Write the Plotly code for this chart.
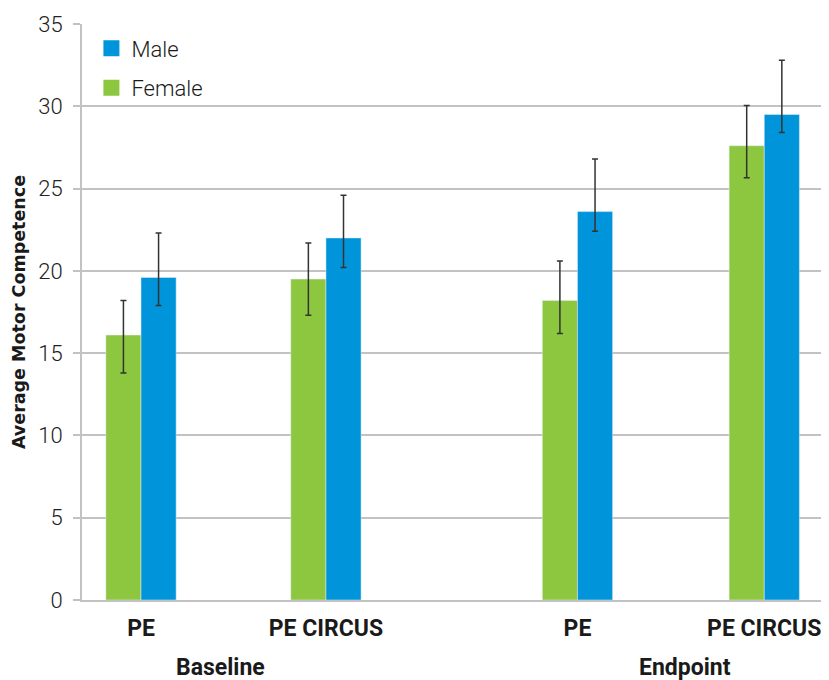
import plotly.graph_objects as go

groups = ["PE", "PE CIRCUS", "PE", "PE CIRCUS"]
phase_labels = ["Baseline", "Endpoint"]
x_pos = [0, 1, 2.36, 3.37]
phase_pos = [0.43, 2.94]

female_mean = [16.1, 19.5, 18.2, 27.6]
female_plus = [2.1, 2.2, 2.4, 2.45]
female_minus = [2.3, 2.2, 2.0, 1.95]

male_mean = [19.6, 22.0, 23.6, 29.5]
male_plus = [2.7, 2.6, 3.2, 3.3]
male_minus = [1.7, 1.8, 1.2, 1.1]

y_ticks = [0, 5, 10, 15, 20, 25, 30, 35]

GREEN = "#8DC63F"
BLUE = "#0095DA"
GRID = "#C2C2C2"
FONT = "Roboto, Noto Sans, sans-serif"

fig = go.Figure()
fig.add_trace(go.Bar(
    name="Female", x=x_pos, y=female_mean, marker_color=GREEN, showlegend=False,
    error_y=dict(type="data", symmetric=False, array=female_plus, arrayminus=female_minus,
                 color="#333333", thickness=1.5, width=3),
))
fig.add_trace(go.Bar(
    name="Male", x=x_pos, y=male_mean, marker_color=BLUE, showlegend=False,
    error_y=dict(type="data", symmetric=False, array=male_plus, arrayminus=male_minus,
                 color="#333333", thickness=1.5, width=3),
))
# legend entries (large square swatches)
for nm, col, grp in [("Male", BLUE, "m"), ("Female", GREEN, "f")]:
    fig.add_trace(go.Scatter(
        name=nm, x=[None], y=[None], mode="markers", legendgroup=grp,
        marker=dict(symbol="square", size=22, color=col), showlegend=True,
    ))

for lbl, xp in zip(phase_labels, phase_pos):
    fig.add_annotation(x=xp, xref="x", y=-0.118, yref="paper", text=f"<b>{lbl}</b>",
                       showarrow=False, yanchor="middle", xanchor="center",
                       font=dict(family=FONT, size=23, color="#1a1a1a"))

fig.update_layout(
    width=821, height=672,
    margin=dict(l=74, r=0, t=16, b=80, autoexpand=False),
    paper_bgcolor="white", plot_bgcolor="white",
    barmode="group", bargap=0.62, bargroupgap=0,
    showlegend=True,
    legend=dict(x=0.0126, y=0.994, xanchor="left", yanchor="top", traceorder="grouped",
                font=dict(family=FONT, size=22, color="#1a1a1a", weight=300),
                bgcolor="rgba(0,0,0,0)", itemsizing="trace", tracegroupgap=8),
    xaxis=dict(range=[-0.319, 3.72], tickmode="array", tickvals=x_pos,
               ticktext=[f"<b>{g}</b>" for g in groups],
               tickfont=dict(family=FONT, size=23, color="#1a1a1a"),
               showgrid=False, zeroline=False, showline=True, linecolor=GRID, linewidth=2,
               ticks="", ticklabelstandoff=6, automargin=False),
    yaxis=dict(range=[0, 35], tickmode="array", tickvals=y_ticks,
               tickfont=dict(family=FONT, size=22, color="#222222", weight=300),
               showgrid=True, gridcolor=GRID, gridwidth=2, zeroline=False,
               showline=True, linecolor=GRID, linewidth=2,
               ticks="outside", ticklen=7, tickcolor=GRID, tickwidth=2,
               ticklabelstandoff=6, automargin=False,
               title=dict(text="<b>Average Motor Competence</b>", standoff=8,
                          font=dict(family="DejaVu Sans", size=17.5, color="#1a1a1a"))),
)

fig.write_html("out.html")
